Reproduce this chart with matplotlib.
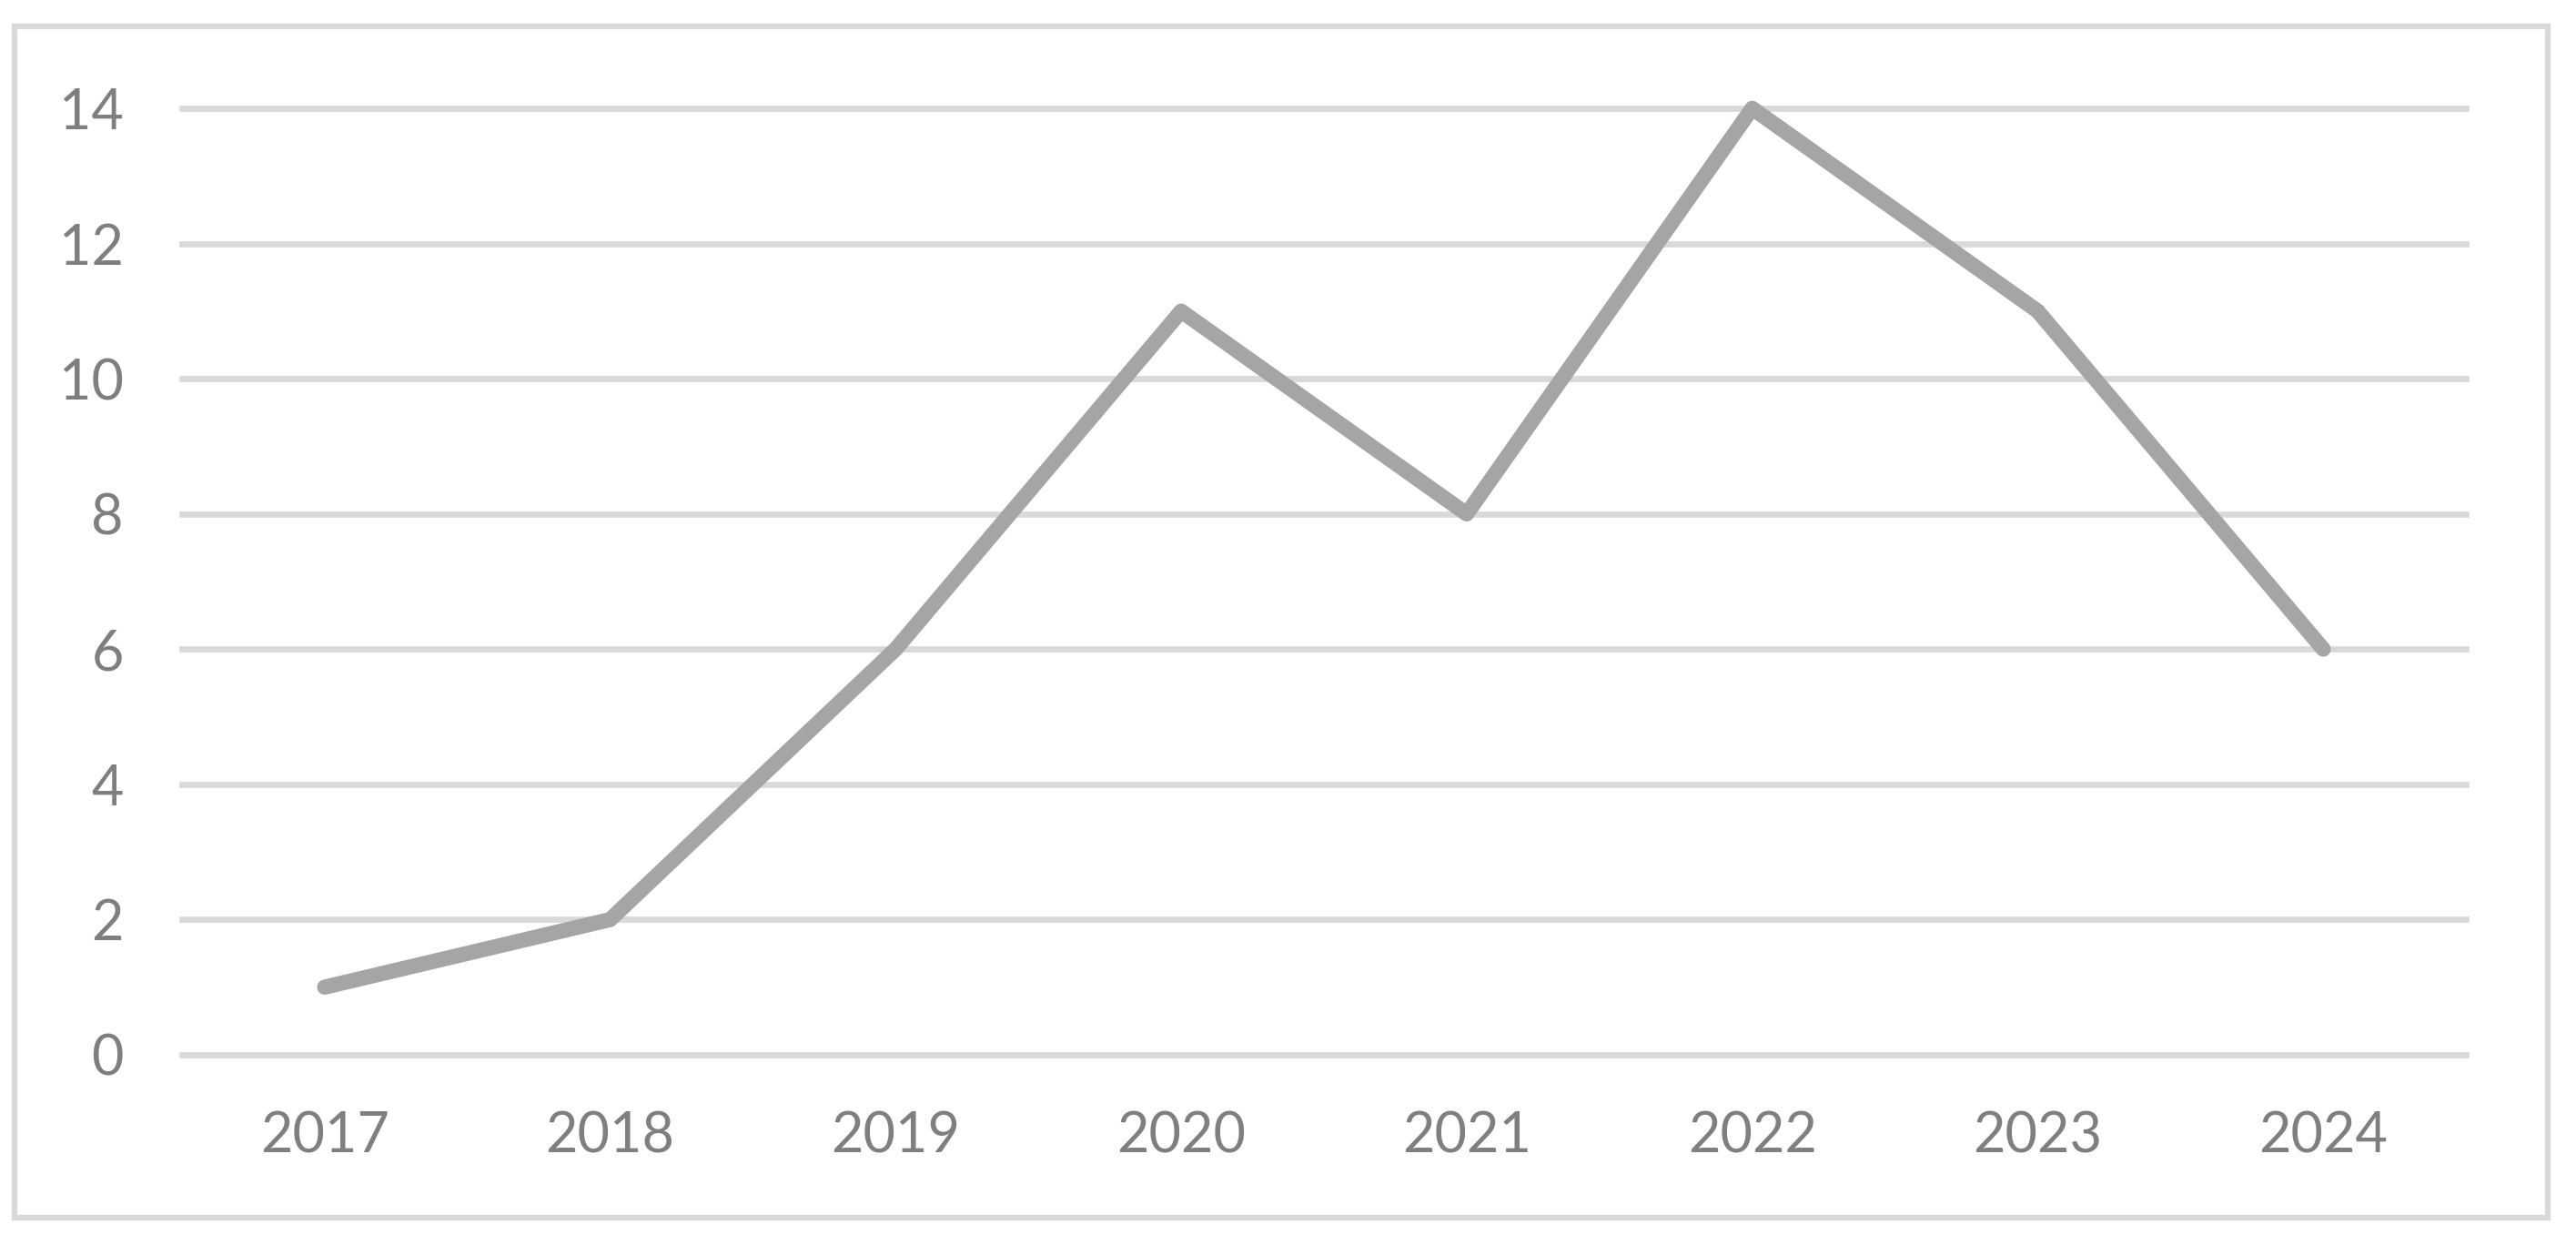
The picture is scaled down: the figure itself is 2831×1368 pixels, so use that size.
import matplotlib

matplotlib.use("Agg")

import matplotlib.pyplot as plt
from matplotlib.patches import Rectangle

years = ["2017", "2018", "2019", "2020", "2021", "2022", "2023", "2024"]
values = [1, 2, 6, 11, 8, 14, 11, 6]
y_ticks = [0, 2, 4, 6, 8, 10, 12, 14]

plt.rcParams["font.family"] = ["Lato", "DejaVu Sans"]

fig = plt.figure(figsize=(28.31, 13.68), dpi=100)
ax = fig.add_axes([0.0706, 0.1528, 0.8867, 0.7602])

x = list(range(len(years)))
ax.plot(x, values, color="#a5a5a5", linewidth=12, solid_capstyle="round",
        solid_joinstyle="round", clip_on=False, zorder=3)

ax.set_xlim(-0.5, len(years) - 0.5)
ax.set_ylim(0, 14)
ax.set_xticks(x)
ax.set_xticklabels(years)
ax.set_yticks(y_ticks)
ax.yaxis.grid(True, color="#d9d9d9", linewidth=4.8)
for gl in ax.get_ygridlines():
    gl.set_clip_on(False)
ax.set_axisbelow(True)
for s in ax.spines.values():
    s.set_visible(False)
ax.tick_params(axis="both", length=0, labelsize=44, colors="#7f7f7f")
ax.tick_params(axis="x", pad=44)
ax.tick_params(axis="y", pad=46)

# outer chart border
fig.patches.append(Rectangle((0.00565, 0.0219), 0.9834, 0.9569, transform=fig.transFigure,
                             fill=False, edgecolor="#d9d9d9", linewidth=4.5))

fig.savefig("out.png", dpi=100, facecolor="white")
